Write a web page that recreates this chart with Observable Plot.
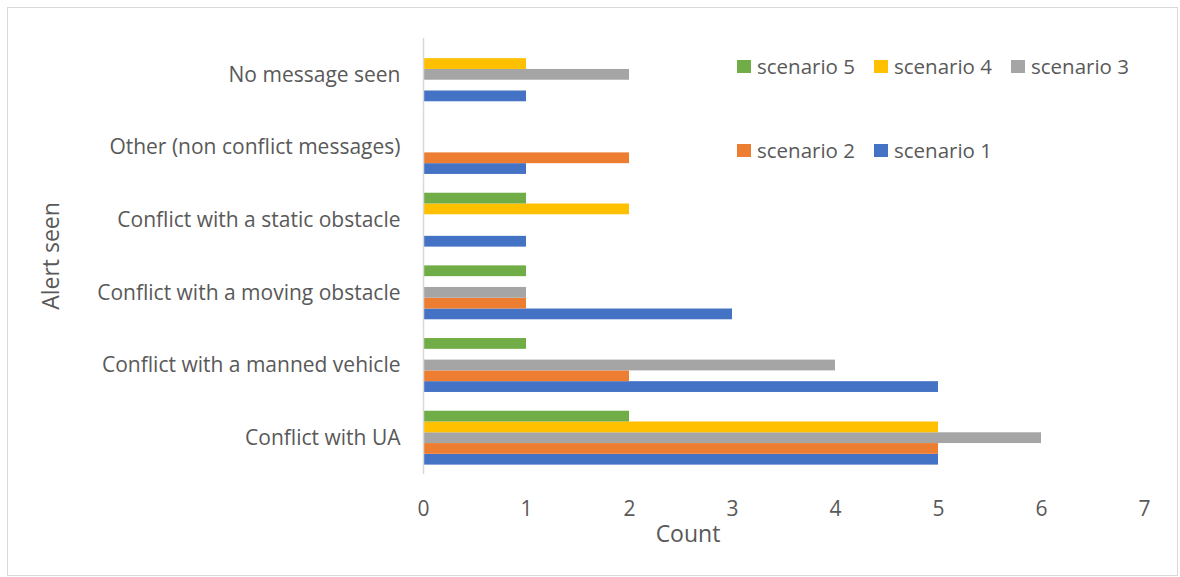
<!DOCTYPE html>
<html><head><meta charset="utf-8">
<script src="https://cdn.jsdelivr.net/npm/d3@7"></script>
<script src="https://cdn.jsdelivr.net/npm/@observablehq/plot@0.6"></script>
<style>
body{margin:0;background:#fff;font-family:"Open Sans",sans-serif;color:#595959;}
#wrap{position:relative;width:1180px;height:577px;overflow:hidden;}
#chart{position:absolute;left:0;top:0;}
#frame{position:absolute;left:7px;top:7px;width:1171px;height:569px;border:1px solid #d9d9d9;box-sizing:border-box;pointer-events:none;}
#legend{position:absolute;left:737px;top:55px;display:grid;grid-template-columns:137px 137px 137px;row-gap:62px;}
.item{display:flex;align-items:center;height:22px;font-size:20.5px;white-space:nowrap;}
.sw{width:14px;height:13px;margin-right:6px;flex:none;}
.title{position:absolute;font-size:23px;white-space:nowrap;line-height:1;}
#xtitle{left:688px;top:533px;transform:translate(-50%,-50%);}
#ytitle{left:50px;top:256px;transform:translate(-50%,-50%) rotate(-90deg);}
</style></head>
<body>
<div id="wrap"><div id="chart"></div><div id="legend"></div>
<div class="title" id="xtitle"></div><div class="title" id="ytitle"></div>
<div id="frame"></div></div>
<script>
const categories = ["No message seen","Other (non conflict messages)","Conflict with a static obstacle","Conflict with a moving obstacle","Conflict with a manned vehicle","Conflict with UA"];
const scenarios = ["scenario 1","scenario 2","scenario 3","scenario 4","scenario 5"];
const colors = ["#4472C4","#ED7D31","#A5A5A5","#FFC000","#70AD47"];
const scenario1 = [1,1,1,3,5,5];
const scenario2 = [0,2,0,1,2,5];
const scenario3 = [2,0,0,1,4,6];
const scenario4 = [1,0,2,0,0,5];
const scenario5 = [0,0,1,1,1,2];
const xTicks = [0,1,2,3,4,5,6,7];
const legendRows = [["scenario 5","scenario 4","scenario 3"],["scenario 2","scenario 1"]];
const xTitle = "Count";
const yTitle = "Alert seen";

const series = [scenario1,scenario2,scenario3,scenario4,scenario5];
const rows = [];
categories.forEach((c,i)=>series.forEach((s,j)=>rows.push({category:c,scenario:scenarios[j],value:s[i]})));

const chart = Plot.plot({
  width:1180, height:577,
  marginLeft:423, marginRight:36, marginTop:38, marginBottom:103,
  style:{fontFamily:"Open Sans", fontSize:"21px", color:"#595959", background:"transparent"},
  x:{domain:[0,7], ticks:xTicks, tickFormat:"d", tickSize:0, tickPadding:27, label:null},
  y:{domain:scenarios.slice().reverse(), axis:null, round:false, paddingInner:0, paddingOuter:0.87},
  fy:{domain:categories, axis:"left", padding:0, round:false, tickSize:0, tickPadding:23, label:null},
  color:{domain:scenarios, range:colors},
  facet:{data:rows, y:"category"},
  marks:[
    Plot.barX(rows,{x:"value", y:"scenario", fill:"scenario"}),
    Plot.ruleX([0],{stroke:"#d9d9d9", strokeWidth:1.5})
  ]
});
document.getElementById("chart").appendChild(chart);
document.getElementById("xtitle").textContent = xTitle;
document.getElementById("ytitle").textContent = yTitle;

const leg = document.getElementById("legend");
legendRows.forEach(r=>{
  r.forEach(name=>{
    const d=document.createElement("div");d.className="item";
    const sw=document.createElement("span");sw.className="sw";sw.style.background=colors[scenarios.indexOf(name)];
    d.appendChild(sw);d.appendChild(document.createTextNode(name));leg.appendChild(d);
  });
  for(let k=r.length;k<3;k++){leg.appendChild(document.createElement("div"));}
});
</script>
</body></html>
